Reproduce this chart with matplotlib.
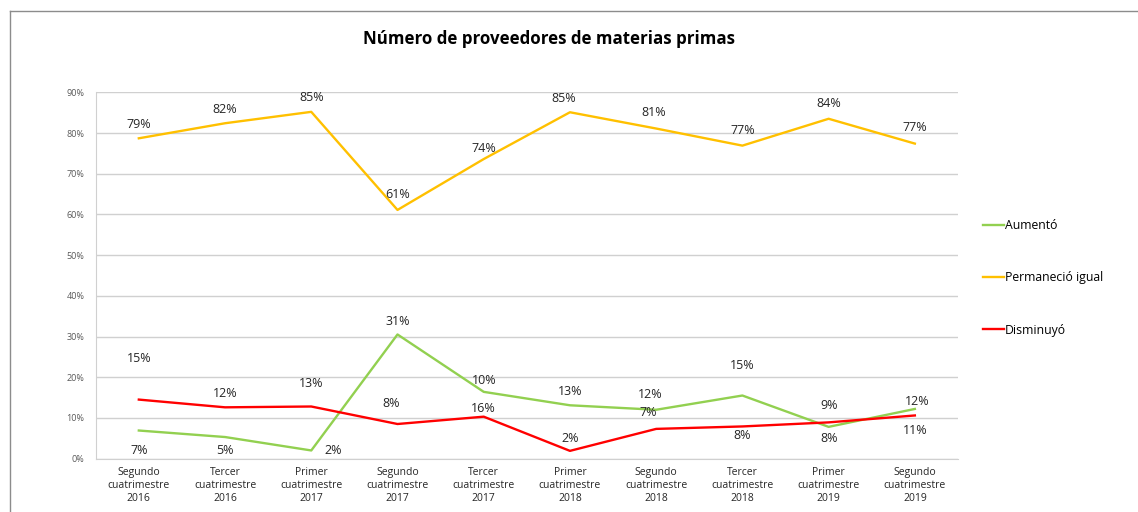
import matplotlib
matplotlib.use("Agg")
import matplotlib.pyplot as plt
from matplotlib.lines import Line2D
import numpy as np

categories = [
    "Segundo\ncuatrimestre\n2016", "Tercer\ncuatrimestre\n2016", "Primer\ncuatrimestre\n2017",
    "Segundo\ncuatrimestre\n2017", "Tercer\ncuatrimestre\n2017", "Primer\ncuatrimestre\n2018",
    "Segundo\ncuatrimestre\n2018", "Tercer\ncuatrimestre\n2018", "Primer\ncuatrimestre\n2019",
    "Segundo\ncuatrimestre\n2019",
]
aumento = [6.9, 5.3, 2.0, 30.5, 16.4, 13.1, 12.0, 15.5, 7.8, 12.2]
permanecio = [78.7, 82.4, 85.2, 61.1, 73.6, 85.1, 81.1, 76.9, 83.5, 77.4]
disminuyo = [14.5, 12.6, 12.8, 8.5, 10.3, 1.9, 7.3, 7.9, 8.9, 10.6]

# labels as printed in the chart
aumento_lbl = [7, 5, 2, 31, 10, 13, 12, 15, 9, 12]
permanecio_lbl = [79, 82, 85, 61, 74, 85, 81, 77, 84, 77]
disminuyo_lbl = [15, 12, 13, 8, 16, 2, 7, 8, 8, 11]

yticks = [0, 10, 20, 30, 40, 50, 60, 70, 80, 90]

# label offsets in pixels (layout)
aum_off = [(0, -20), (0, -13), (22, 0), (0, 13), (0, 11), (0, 14), (-6, 15), (0, 30), (0, 21), (2, 7)]
per_off = [(0, 14), (0, 14), (0, 14), (0, 15), (0, 11), (-6, 14), (-2, 16), (0, 15), (0, 15), (0, 16)]
dis_off = [(0, 41), (0, 14), (0, 23), (-6, 21), (0, 8), (0, 12), (-8, 16), (0, -9), (0, -16), (0, -15)]

GREEN = "#92d050"
ORANGE = "#ffc000"
RED = "#ff0000"

plt.rcParams['font.family'] = ['Open Sans', 'DejaVu Sans']

fig = plt.figure(figsize=(11.38, 5.12), dpi=100)
ax = fig.add_axes([0.0841, 0.1043, 0.8418 - 0.0841, 0.8197 - 0.1043])

x = np.arange(len(categories))
ax.plot(x, aumento, color=GREEN, lw=1.7, solid_joinstyle='round')
ax.plot(x, permanecio, color=ORANGE, lw=1.7, solid_joinstyle='round')
ax.plot(x, disminuyo, color=RED, lw=1.7, solid_joinstyle='round')

def put_labels(vals, lbls, offs):
    for xi, v, l, (dx, dy) in zip(x, vals, lbls, offs):
        ax.annotate(f"{l}%", (xi, v), xytext=(dx, dy), textcoords='offset pixels',
                    ha='center', va='center', fontsize=9, color='#262626')

put_labels(aumento, aumento_lbl, aum_off)
put_labels(permanecio, permanecio_lbl, per_off)
put_labels(disminuyo, disminuyo_lbl, dis_off)

ax.set_xlim(-0.5, len(categories) - 0.5)
ax.set_ylim(0, 90)
ax.set_yticks(yticks)
ax.set_yticklabels([f"{t}%" for t in yticks], fontsize=6.5, color='#595959')
ax.set_xticks(x)
ax.set_xticklabels(categories, fontsize=7.5, color='#262626', linespacing=1.25)
ax.tick_params(axis='both', length=0, pad=8)
ax.tick_params(axis='x', pad=6)
ax.grid(axis='y', color='#d0d0d0', lw=1)
ax.set_axisbelow(True)
for s in ['top', 'right']:
    ax.spines[s].set_visible(False)
ax.spines['left'].set_color('#d0d0d0')
ax.spines['bottom'].set_color('#d0d0d0')

fig.text(0.4825, 1 - 39 / 512, "Número de proveedores de materias primas",
         ha='center', va='center', fontsize=12.2, fontweight='bold', color='black')

handles = [Line2D([], [], color=GREEN, lw=1.7),
           Line2D([], [], color=ORANGE, lw=1.7),
           Line2D([], [], color=RED, lw=1.7)]
leg = fig.legend(handles, ["Aumentó", "Permaneció igual", "Disminuyó"],
                 loc='center left', bbox_to_anchor=(0.858, 1 - 278 / 512),
                 frameon=False, fontsize=8.8, handlelength=1.75, handletextpad=0.05,
                 labelspacing=3.2, borderpad=0)

# thin frame on top and left
fig.add_artist(Line2D([10 / 1138, 10 / 1138], [0, 1 - 11 / 512], transform=fig.transFigure,
                      color='#8c8c8c', lw=1))
fig.add_artist(Line2D([10 / 1138, 1], [1 - 11 / 512, 1 - 11 / 512], transform=fig.transFigure,
                      color='#8c8c8c', lw=1))

fig.savefig("out.png", dpi=100)
